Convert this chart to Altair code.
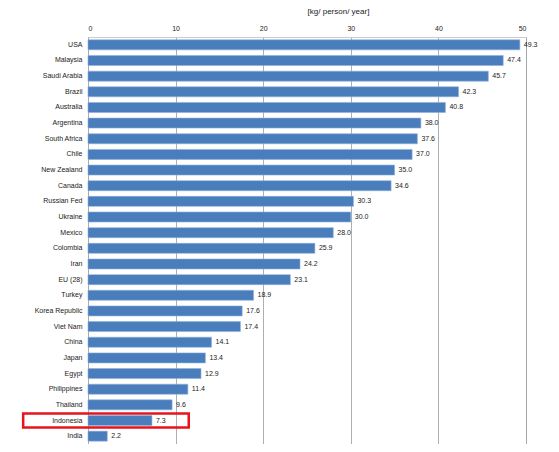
import altair as alt
import pandas as pd

countries = ["USA", "Malaysia", "Saudi Arabia", "Brazil", "Australia", "Argentina",
             "South Africa", "Chile", "New Zealand", "Canada", "Russian Fed", "Ukraine",
             "Mexico", "Colombia", "Iran", "EU (28)", "Turkey", "Korea Republic",
             "Viet Nam", "China", "Japan", "Egypt", "Philippines", "Thailand",
             "Indonesia", "India"]
values = [49.3, 47.4, 45.7, 42.3, 40.8, 38.0, 37.6, 37.0, 35.0, 34.6, 30.3, 30.0,
          28.0, 25.9, 24.2, 23.1, 18.9, 17.6, 17.4, 14.1, 13.4, 12.9, 11.4, 9.6,
          7.3, 2.2]
highlight_country = ["Indonesia"]
highlight_from = [-7.4]
highlight_to = [11.5]

df = pd.DataFrame({"country": countries, "value": values})
df["label"] = [f"{v:.1f}" for v in values]
hl = pd.DataFrame({"country": highlight_country, "x0": highlight_from, "x1": highlight_to})

FONT = "Liberation Sans"

y_enc = alt.Y("country:N", sort=countries, title=None,
              scale=alt.Scale(paddingInner=0.36, paddingOuter=0.18),
              axis=alt.Axis(labelFontSize=7, labelColor="#222", labelFont=FONT,
                            ticks=False, domainColor="#aaa", labelPadding=6))
x_scale = alt.Scale(domain=[0, 50], nice=False)

bars = alt.Chart(df).mark_bar(color="#4a7dbb", stroke="#8fb0dc", strokeWidth=0.6).encode(
    y=y_enc,
    x=alt.X("value:Q", scale=x_scale, title="[kg/ person/ year]",
            axis=alt.Axis(orient="top", values=[0, 10, 20, 30, 40, 50], labelFontSize=7,
                          labelFont=FONT, labelColor="#222", ticks=False,
                          grid=True, gridColor="#9a9a9a", gridWidth=0.8,
                          domainColor="#ccc", labelPadding=6,
                          titleFont=FONT, titleFontSize=8, titleFontWeight="normal",
                          titleColor="#222", titleX=250, titleY=-22)),
)

text = alt.Chart(df).mark_text(align="left", dx=4, fontSize=7, font=FONT, color="#222").encode(
    y=alt.Y("country:N", sort=countries),
    x=alt.X("value:Q", scale=x_scale),
    text="label:N",
)

box = alt.Chart(hl).mark_rect(fill=None, stroke="#e8141b", strokeWidth=2.5, clip=False,
                              height=14).encode(
    y=alt.Y("country:N", sort=countries),
    x=alt.X("x0:Q", scale=x_scale),
    x2="x1:Q",
)

chart = alt.layer(bars, text, box).properties(
    width=438, height=407,
    autosize=alt.AutoSizeParams(type="none"),
    padding={"left": 80, "top": 29, "right": 25, "bottom": 0},
).configure_view(stroke=None).configure(background="white")

chart.save("out.html", embed_options={"renderer": "svg", "actions": False})
